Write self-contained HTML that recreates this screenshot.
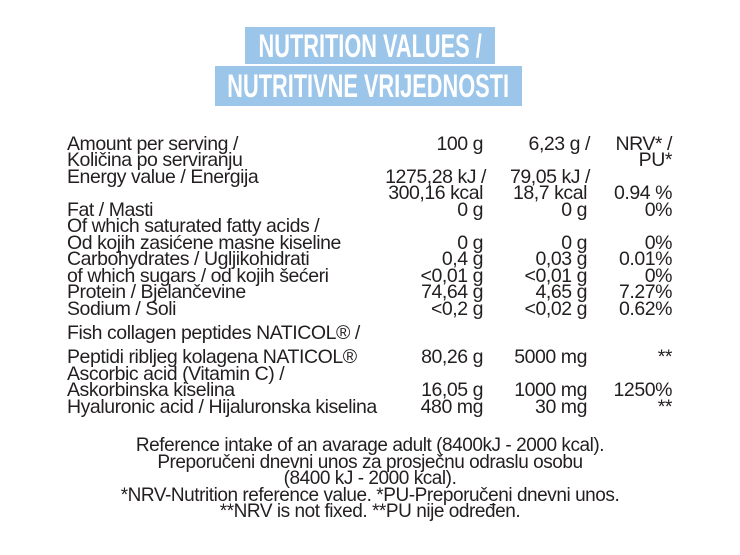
<!DOCTYPE html>
<html><head><meta charset="utf-8"><style>
body{margin:0;width:740px;height:555px;background:#fff;position:relative;overflow:hidden;font-family:"Liberation Sans",sans-serif;color:#231f20}
.t{position:absolute;font-size:19.5px;line-height:17px;white-space:nowrap;letter-spacing:-0.45px}
.l{left:67px}
.r{text-align:right}
.c1{right:257px}.c2{right:153px}.c3{right:68px}
.hb{position:absolute;background:#9cc5ea;display:flex;justify-content:center;align-items:center;overflow:visible}
.ht{display:inline-block;color:#fff;font-weight:bold;font-size:32px;line-height:34px;white-space:nowrap;transform:scaleX(0.68);transform-origin:center}
.f{position:absolute;left:0;width:740px;text-align:center;font-size:19px;line-height:17px;letter-spacing:-0.45px}
</style></head><body>
<div class="hb" style="left:245px;top:27px;width:250px;height:37px"><span class="ht">NUTRITION VALUES /</span></div>
<div class="hb" style="left:215px;top:66px;width:307px;height:40px"><span class="ht">NUTRITIVNE VRIJEDNOSTI</span></div>

<div>
<div class="t l" style="top:136px">Amount per serving /</div>
<div class="t r c1" style="top:136px">100 g</div>
<div class="t r c2" style="top:136px;right:150px">6,23 g /</div>
<div class="t r c3" style="top:136px">NRV* /</div>
<div class="t l" style="top:152px">Količina po serviranju</div>
<div class="t r c3" style="top:152px">PU*</div>
<div class="t l" style="top:169px">Energy value / Energija</div>
<div class="t r c1" style="top:169px;right:254px">1275,28 kJ /</div>
<div class="t r c2" style="top:169px;right:150px">79,05 kJ /</div>
<div class="t r c1" style="top:185px">300,16 kcal</div>
<div class="t r c2" style="top:185px">18,7 kcal</div>
<div class="t r c3" style="top:185px">0.94 %</div>
<div class="t l" style="top:202px">Fat / Masti</div>
<div class="t r c1" style="top:202px">0 g</div>
<div class="t r c2" style="top:202px">0 g</div>
<div class="t r c3" style="top:202px">0%</div>
<div class="t l" style="top:218px">Of which saturated fatty acids /</div>
<div class="t l" style="top:235px">Od kojih zasićene masne kiseline</div>
<div class="t r c1" style="top:235px">0 g</div>
<div class="t r c2" style="top:235px">0 g</div>
<div class="t r c3" style="top:235px">0%</div>
<div class="t l" style="top:251px">Carbohydrates / Ugljikohidrati</div>
<div class="t r c1" style="top:251px">0,4 g</div>
<div class="t r c2" style="top:251px">0,03 g</div>
<div class="t r c3" style="top:251px">0.01%</div>
<div class="t l" style="top:268px">of which sugars / od kojih šećeri</div>
<div class="t r c1" style="top:268px">&lt;0,01 g</div>
<div class="t r c2" style="top:268px">&lt;0,01 g</div>
<div class="t r c3" style="top:268px">0%</div>
<div class="t l" style="top:284px">Protein / Bjelančevine</div>
<div class="t r c1" style="top:284px">74,64 g</div>
<div class="t r c2" style="top:284px">4,65 g</div>
<div class="t r c3" style="top:284px">7.27%</div>
<div class="t l" style="top:301px">Sodium / Soli</div>
<div class="t r c1" style="top:301px">&lt;0,2 g</div>
<div class="t r c2" style="top:301px">&lt;0,02 g</div>
<div class="t r c3" style="top:301px">0.62%</div>
<div class="t l" style="top:325px">Fish collagen peptides NATICOL® /</div>
<div class="t l" style="top:349px">Peptidi ribljeg kolagena NATICOL®</div>
<div class="t r c1" style="top:349px">80,26 g</div>
<div class="t r c2" style="top:349px">5000 mg</div>
<div class="t r c3" style="top:349px">**</div>
<div class="t l" style="top:366px">Ascorbic acid (Vitamin C) /</div>
<div class="t l" style="top:382px">Askorbinska kiselina</div>
<div class="t r c1" style="top:382px">16,05 g</div>
<div class="t r c2" style="top:382px">1000 mg</div>
<div class="t r c3" style="top:382px">1250%</div>
<div class="t l" style="top:399px">Hyaluronic acid / Hijaluronska kiselina</div>
<div class="t r c1" style="top:399px">480 mg</div>
<div class="t r c2" style="top:399px">30 mg</div>
<div class="t r c3" style="top:399px">**</div>
</div>

<div>
<div class="f" style="top:437px">Reference intake of an avarage adult (8400kJ - 2000 kcal).</div>
<div class="f" style="top:454px">Preporučeni dnevni unos za prosječnu odraslu osobu</div>
<div class="f" style="top:470px">(8400 kJ - 2000 kcal).</div>
<div class="f" style="top:487px">*NRV-Nutrition reference value. *PU-Preporučeni dnevni unos.</div>
<div class="f" style="top:503px">**NRV is not fixed. **PU nije određen.</div>
</div>
</body></html>
